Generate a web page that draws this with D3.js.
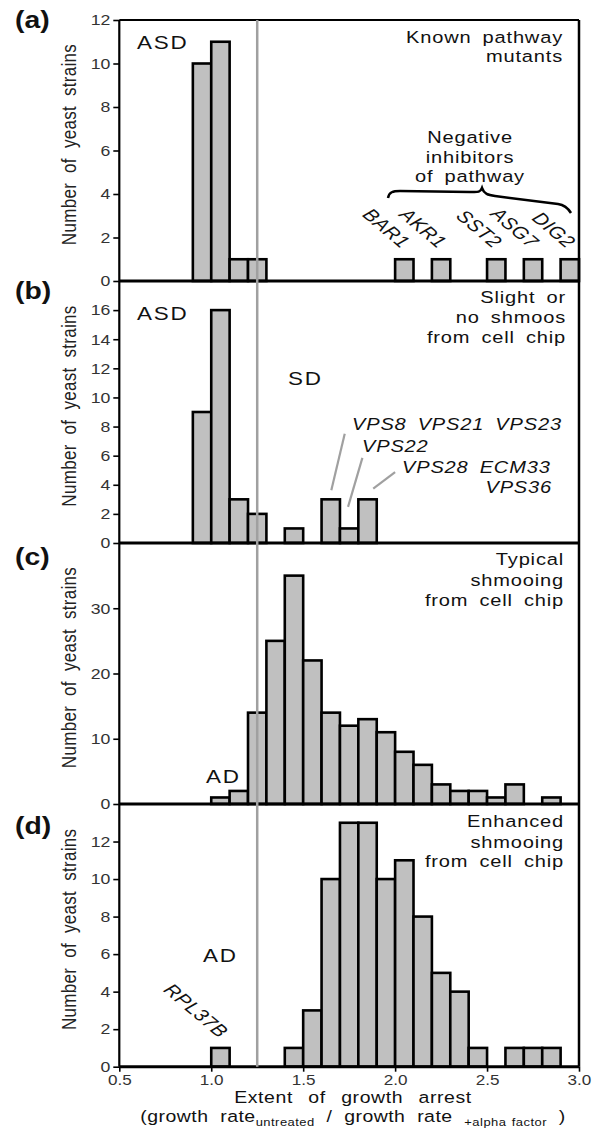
<!DOCTYPE html>
<html>
<head>
<meta charset="utf-8">
<script src="https://cdn.jsdelivr.net/npm/d3@7"></script>
<style>
  body { margin: 0; background: #fff; }
  svg { display: block; font-family: "Liberation Sans", Arial, Helvetica, sans-serif; }
</style>
</head>
<body>
<div id="chart"></div>
<script>
// Histogram data: left edge of each 0.1-wide bin and the strain count in it.
const binsA = [0.9, 1.0, 1.1, 1.2, 2.0, 2.2, 2.5, 2.7, 2.9];
const countsA = [10, 11, 1, 1, 1, 1, 1, 1, 1];
const genesA = ["BAR1", "AKR1", "SST2", "ASG7", "DIG2"];

const binsB = [0.9, 1.0, 1.1, 1.2, 1.4, 1.6, 1.7, 1.8];
const countsB = [9, 16, 3, 2, 1, 3, 1, 3];

const binsC = [1.0, 1.1, 1.2, 1.3, 1.4, 1.5, 1.6, 1.7, 1.8, 1.9, 2.0, 2.1, 2.2, 2.3, 2.4, 2.5, 2.6, 2.8];
const countsC = [1, 2, 14, 25, 35, 22, 14, 12, 13, 11, 8, 6, 3, 2, 2, 1, 3, 1];

const binsD = [1.0, 1.4, 1.5, 1.6, 1.7, 1.8, 1.9, 2.0, 2.1, 2.2, 2.3, 2.4, 2.6, 2.7, 2.8];
const countsD = [1, 1, 3, 10, 13, 13, 10, 11, 8, 5, 4, 1, 1, 1, 1];

const yTicksA = [0, 2, 4, 6, 8, 10, 12];
const yTicksB = [0, 2, 4, 6, 8, 10, 12, 14, 16];
const yTicksC = [0, 10, 20, 30];
const yTicksD = [0, 2, 4, 6, 8, 10, 12];
const xTicks = [0.5, 1.0, 1.5, 2.0, 2.5, 3.0];

const binWidth = 0.1;
const threshold = 1.25;

// Layout
const W = 594, H = 1129;
const left = 119.3, right = 579;
const SX = 1.18;   // the original figure is stretched horizontally
const FONT = 17;

const svg = d3.select("#chart").append("svg")
    .attr("width", W)
    .attr("height", H);

const x = d3.scaleLinear().domain([0.5, 3.0]).range([left, right]);

// helper for the horizontally stretched text
function put(g, px, py, str, o = {}) {
    let tr = "translate(" + px + "," + py + ") scale(" + SX + ",1)";
    if (o.rotate) tr += " rotate(" + o.rotate + ")";
    let t = g.append("text")
        .attr("transform", tr)
        .attr("font-size", o.size || FONT)
        .attr("text-anchor", o.anchor || "start")
        .attr("letter-spacing", o.ls != null ? o.ls : 0.7)
        .attr("word-spacing", o.ws != null ? o.ws : 4)
        .attr("fill", o.fill || "#111");
    if (o.italic) t.attr("font-style", "italic");
    if (o.bold) t.attr("font-weight", "bold");
    if (str != null) t.text(str);
    return t;
}

let panels = [
    { label: "(a)", bins: binsA, counts: countsA, ticks: yTicksA, yMax: 12, top: 20, bottom: 281, labelY: 28 },
    { label: "(b)", bins: binsB, counts: countsB, ticks: yTicksB, yMax: 18, top: 281, bottom: 543, labelY: 299 },
    { label: "(c)", bins: binsC, counts: countsC, ticks: yTicksC, yMax: 40, top: 543, bottom: 804, labelY: 565 },
    { label: "(d)", bins: binsD, counts: countsD, ticks: yTicksD, yMax: 14, top: 804, bottom: 1066.7, labelY: 834 }
];

panels.forEach(function(p) {
    p.y = d3.scaleLinear().domain([0, p.yMax]).range([p.bottom, p.top]);
    let data = p.bins.map((b, i) => ({ x: b, y: p.counts[i] }));

    // Bars
    svg.append("g").selectAll("rect")
        .data(data)
        .enter()
        .append("rect")
            .attr("x", d => x(d.x))
            .attr("y", d => p.y(d.y))
            .attr("width", d => x(d.x + binWidth) - x(d.x))
            .attr("height", d => p.bottom - p.y(d.y))
            .attr("fill", "#c0c0c0")
            .attr("stroke", "#000")
            .attr("stroke-width", 2.6);

    // Y axis ticks
    let ax = svg.append("g")
        .attr("transform", "translate(" + left + ",0)")
        .call(d3.axisLeft(p.y).tickValues(p.ticks).tickSize(6).tickPadding(3));
    ax.select(".domain").remove();
    ax.selectAll(".tick line").attr("stroke", "#000").attr("stroke-width", 1.6);
    ax.selectAll(".tick text")
        .attr("font-size", 15)
        .attr("font-family", null)
        .attr("fill", "#333")
        .attr("x", -9 / SX)
        .attr("transform", "scale(" + SX + ",1)");

    // Baseline
    svg.append("line")
        .attr("x1", left).attr("x2", right)
        .attr("y1", p.bottom).attr("y2", p.bottom)
        .attr("stroke", "#000")
        .attr("stroke-width", 3);

    // Panel letter
    put(svg, 15, p.labelY, p.label, { size: 24, bold: true, ls: 0 });

    // Y axis title
    put(svg, 76, (p.top + p.bottom) / 2 - 6, "Number of yeast strains",
        { rotate: -90, anchor: "middle", size: 17, ls: 0.3, ws: 5, fill: "#222" });
});

// Frame: top, left, right
svg.append("line").attr("x1", left).attr("x2", right).attr("y1", 20).attr("y2", 20)
    .attr("stroke", "#000").attr("stroke-width", 2);
svg.append("line").attr("x1", left).attr("x2", left).attr("y1", 20).attr("y2", 1066.7)
    .attr("stroke", "#000").attr("stroke-width", 2.2);
svg.append("line").attr("x1", right).attr("x2", right).attr("y1", 20).attr("y2", 1066.7)
    .attr("stroke", "#000").attr("stroke-width", 2.5);

// Threshold line
svg.append("line")
    .attr("x1", x(threshold)).attr("x2", x(threshold))
    .attr("y1", 20).attr("y2", 1066.7)
    .attr("stroke", "#a0a0a0")
    .attr("stroke-width", 2.5);

// X axis (bottom panel only)
let pd = panels[3];
let xa = svg.append("g")
    .attr("transform", "translate(0," + pd.bottom + ")")
    .call(d3.axisBottom(x).tickValues(xTicks).tickSize(5).tickPadding(3).tickFormat(d3.format(".1f")));
xa.select(".domain").remove();
xa.selectAll(".tick line").attr("stroke", "#000").attr("stroke-width", 1.6);
xa.selectAll(".tick text")
    .attr("font-size", 14.5)
    .attr("font-family", null)
    .attr("fill", "#333")
    .attr("x", 0)
    .attr("transform", "scale(" + SX + ",1)");

put(svg, 353, 1103, "Extent of growth arrest", { anchor: "middle", size: 16.5, ls: 0.5, ws: 8 });
let t2 = put(svg, 353, 1122, null, { anchor: "middle", size: 16.5, ls: 0.4, ws: 5 });
t2.append("tspan").text("(growth rate");
t2.append("tspan").attr("font-size", 11).attr("word-spacing", 0).attr("dy", 4).text("untreated");
t2.append("tspan").attr("dy", -4).text(" / growth rate ");
t2.append("tspan").attr("font-size", 11).attr("word-spacing", 1).attr("dy", 4).text("+alpha factor");
t2.append("tspan").attr("dy", -4).text(" )");

// ---- Panel (a) annotations
let pa = panels[0];
put(svg, 137, 49, "ASD", { size: 19, ls: 1.5 });
put(svg, 563, 43, "Known pathway", { anchor: "end" });
put(svg, 563, 62, "mutants", { anchor: "end" });
put(svg, 470, 143, "Negative", { anchor: "middle" });
put(svg, 470, 163, "inhibitors", { anchor: "middle" });
put(svg, 470, 182, "of pathway", { anchor: "middle" });
svg.append("path")
    .attr("d", "M388,198 C389,192 393,191 400,191 L470,192 C477,192 480,193 482,188 " +
               "C484,194 488,195 495,196 L558,204 C565,205 568,208 571,213")
    .attr("fill", "none")
    .attr("stroke", "#000")
    .attr("stroke-width", 2.5);
// rotated gene names sit above the single-strain bars on the right
let rightBins = binsA.slice(4);
rightBins.forEach(function(b, i) {
    put(svg, x(b + binWidth / 2) - 3, pa.y(countsA[4 + i]) - 10, genesA[i],
        { rotate: 45, anchor: "end", size: 17.5, italic: true, ls: 0.5 });
});

// ---- Panel (b) annotations
let pb = panels[1];
put(svg, 137, 320, "ASD", { size: 19, ls: 1.5 });
put(svg, 566, 303, "Slight or", { anchor: "end" });
put(svg, 566, 323, "no shmoos", { anchor: "end" });
put(svg, 566, 343, "from cell chip", { anchor: "end" });
put(svg, 288, 385, "SD", { size: 19, ls: 1.5 });
put(svg, 352, 430, "VPS8 VPS21 VPS23", { italic: true });
put(svg, 362, 452, "VPS22", { italic: true });
put(svg, 402, 473, "VPS28  ECM33", { italic: true });
put(svg, 552, 493, "VPS36", { italic: true, anchor: "end" });
let leaders = [
    [[1.726, 7.5], [1.653, 3.62]],
    [[1.822, 5.85], [1.744, 2.48]],
    [[2.0, 4.87], [1.881, 3.74]]
];
leaders.forEach(function(l) {
    svg.append("line")
        .attr("x1", x(l[0][0])).attr("y1", pb.y(l[0][1]))
        .attr("x2", x(l[1][0])).attr("y2", pb.y(l[1][1]))
        .attr("stroke", "#a0a0a0")
        .attr("stroke-width", 2.2);
});

// ---- Panel (c) annotations
put(svg, 564, 565, "Typical", { anchor: "end" });
put(svg, 564, 586, "shmooing", { anchor: "end" });
put(svg, 564, 606, "from cell chip", { anchor: "end" });
put(svg, 206, 783, "AD", { size: 19, ls: 1.5 });

// ---- Panel (d) annotations
let pdd = panels[3];
put(svg, 564, 827, "Enhanced", { anchor: "end" });
put(svg, 564, 848, "shmooing", { anchor: "end" });
put(svg, 564, 867, "from cell chip", { anchor: "end" });
put(svg, 203, 962, "AD", { size: 19, ls: 1.5 });
put(svg, x(binsD[0] + binWidth / 2) - 1, pdd.y(countsD[0]) - 9, "RPL37B",
    { rotate: 45, anchor: "end", size: 17.5, italic: true, ls: 0.5 });
</script>
</body>
</html>
